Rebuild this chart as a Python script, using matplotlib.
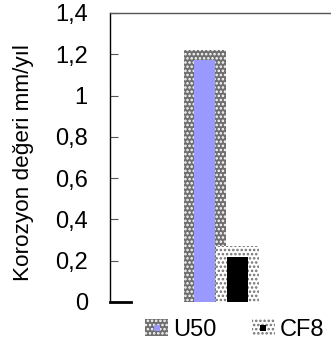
import matplotlib
matplotlib.use("Agg")
import matplotlib.pyplot as plt
from matplotlib.patches import Patch
from matplotlib.lines import Line2D
from matplotlib.legend_handler import HandlerTuple

# values (mm/yil)
series = ["U50", "CF8"]
back_values = [1.22, 0.27]     # hatched back block
front_values = [1.17, 0.22]    # solid front bar
yticks = [0, 0.2, 0.4, 0.6, 0.8, 1.0, 1.2, 1.4]
ytick_labels = ["0", "0,2", "0,4", "0,6", "0,8", "1", "1,2", "1,4"]

plt.rcParams["font.family"] = ["Liberation Sans", "DejaVu Sans"]
plt.rcParams["hatch.linewidth"] = 1.2

fig = plt.figure(figsize=(3.31, 3.47), dpi=100)
ax = fig.add_axes([110 / 331, 1 - 302 / 347, 221 / 331, 289 / 347])

pos = [0, 1]
back_style = [dict(facecolor="#6e6e6e", edgecolor="white", hatch="...."),
              dict(facecolor="white", edgecolor="#707070", hatch="....")]
front_col = ["#9999ff", "black"]

for i in range(len(series)):
    ax.bar(pos[i], back_values[i], width=1.3, linewidth=0, zorder=2, **back_style[i])
    ax.bar(pos[i], front_values[i], width=0.65, color=front_col[i], linewidth=0, zorder=3)

ax.set_xlim(-2.92, 3.88)
ax.set_ylim(0, 1.4)
ax.set_xticks([])
ax.set_yticks(yticks)
ax.set_yticklabels(ytick_labels, fontsize=17)
ax.tick_params(axis="y", direction="in", length=6, width=0.8, color="#555555", pad=16)

ax.spines["right"].set_visible(False)
ax.spines["bottom"].set_visible(False)
ax.spines["left"].set_color("black")
ax.spines["left"].set_linewidth(1.0)
ax.spines["top"].set_color("#555555")
ax.spines["top"].set_linewidth(1.0)
# the short thick stub at zero
ax.axhline(0, xmin=0, xmax=21 / 221, color="black", linewidth=2, zorder=4, clip_on=False)

ax.set_ylabel("Korozyon değeri mm/yıl", fontsize=16.2, va="center", ha="center")
ax.yaxis.set_label_coords(-0.39, 0.482)

handles = []
for i in range(len(series)):
    outer = Patch(linewidth=0, **back_style[i])
    inner = Line2D([], [], linestyle="none", marker="s", markersize=4.3,
                   markerfacecolor=front_col[i], markeredgewidth=0)
    handles.append((outer, inner))

fig.legend(handles, series, loc="center", bbox_to_anchor=(234.5 / 331, 1 - 330 / 347),
           ncol=2, frameon=False, fontsize=17, handlelength=0.97, handleheight=0.75,
           handletextpad=0.2, columnspacing=1.5, borderpad=0,
           handler_map={tuple: HandlerTuple(ndivide=1)})

fig.savefig("out.png", dpi=100)
